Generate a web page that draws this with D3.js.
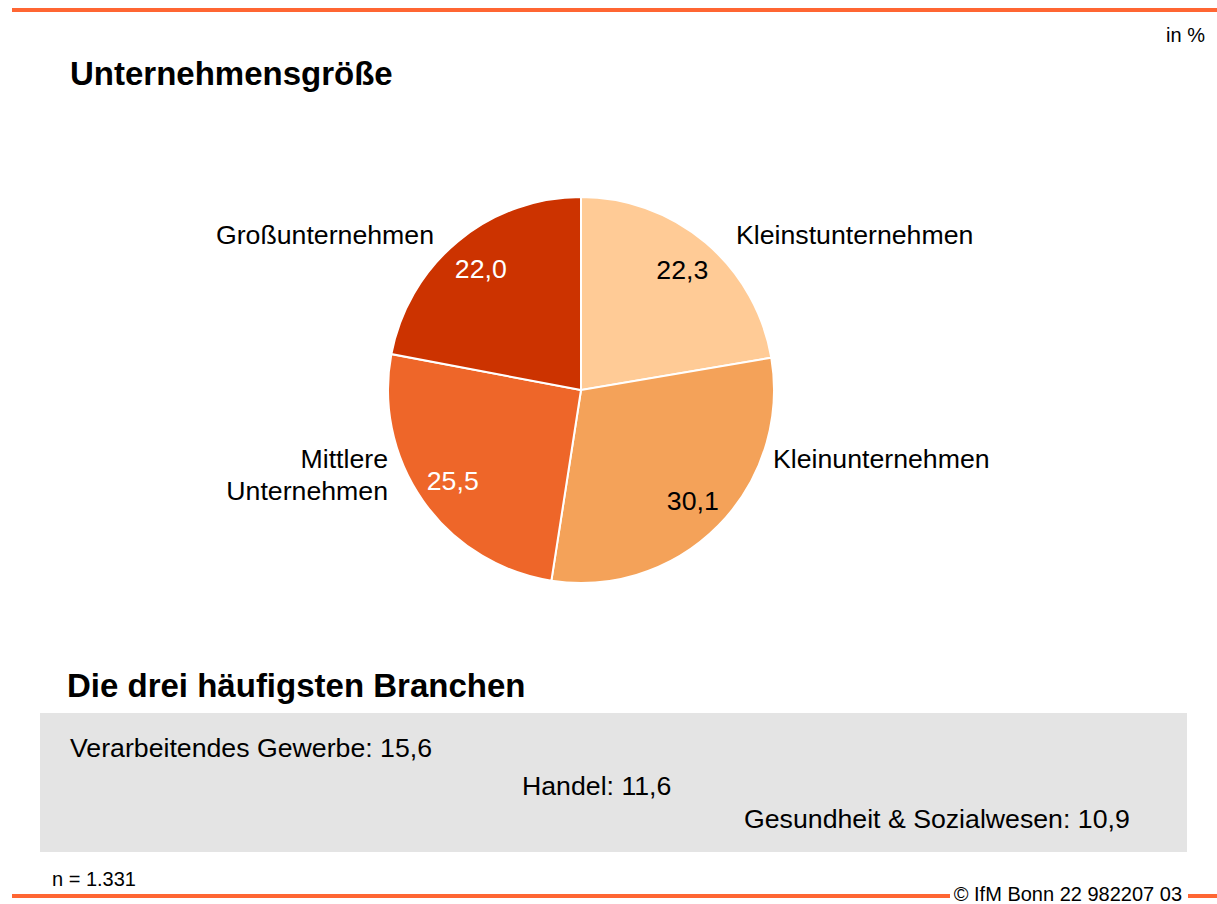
<!DOCTYPE html>
<html>
<head>
<meta charset="utf-8">
<script src="https://cdn.jsdelivr.net/npm/d3@7"></script>
<style>
  body { margin: 0; background: #fff; }
  text { font-family: "Liberation Sans", Arial, sans-serif; }
</style>
</head>
<body>
<div id="chart"></div>
<script>
// data
var categories = ["Kleinstunternehmen", "Kleinunternehmen", "Mittlere Unternehmen", "Großunternehmen"];
var values = [22.3, 30.1, 25.5, 22.0];
var colors = ["#FFCB96", "#F4A259", "#EE6629", "#CC3300"];
var valueColors = ["#000", "#000", "#fff", "#fff"];
var branchen = ["Verarbeitendes Gewerbe", "Handel", "Gesundheit & Sozialwesen"];
var branchenValues = [15.6, 11.6, 10.9];

var fmt = function(v) { return d3.format(".1f")(v).replace(".", ","); };

var width = 1217, height = 904;
var svg = d3.select("#chart").append("svg")
  .attr("width", width)
  .attr("height", height);

// orange lines top and bottom
svg.append("rect").attr("x", 12).attr("y", 8).attr("width", width - 12).attr("height", 4).attr("fill", "#FF6633");
svg.append("rect").attr("x", 12).attr("y", 894).attr("width", 938).attr("height", 4).attr("fill", "#FF6633");
svg.append("rect").attr("x", 1188).attr("y", 894).attr("width", width - 1188).attr("height", 4).attr("fill", "#FF6633");

svg.append("text").attr("x", 1205).attr("y", 42).attr("text-anchor", "end")
  .style("font-size", "20px").text("in %");

svg.append("text").attr("x", 70).attr("y", 85)
  .style("font-size", "33px").style("font-weight", "bold").text("Unternehmensgröße");

// pie
var cx = 581, cy = 390, radius = 193;
var pie = d3.pie().sort(null).value(function(d) { return d; });
var arcs = pie(values);
var arc = d3.arc().innerRadius(0).outerRadius(radius);
var labelArc = d3.arc().innerRadius(157).outerRadius(157);

var g = svg.append("g").attr("transform", "translate(" + cx + "," + cy + ")");

g.selectAll("path")
  .data(arcs)
  .enter().append("path")
    .attr("d", arc)
    .attr("fill", function(d, i) { return colors[i]; })
    .attr("stroke", "#fff")
    .attr("stroke-width", 2);

g.selectAll(".val")
  .data(arcs)
  .enter().append("text")
    .attr("class", "val")
    .attr("transform", function(d) { return "translate(" + labelArc.centroid(d) + ")"; })
    .attr("text-anchor", "middle")
    .attr("dy", "0.35em")
    .style("font-size", "26.7px")
    .attr("fill", function(d, i) { return valueColors[i]; })
    .text(function(d) { return fmt(d.data); });

// category labels, placed by hand like the original
var catLabels = [
  { lines: ["Kleinstunternehmen"], x: 155, y: -146, anchor: "start" },
  { lines: ["Kleinunternehmen"], x: 192, y: 78, anchor: "start" },
  { lines: ["Mittlere", "Unternehmen"], x: -193, y: 78, anchor: "end" },
  { lines: ["Großunternehmen"], x: -147, y: -146, anchor: "end" }
];
catLabels.forEach(function(l) {
  var t = g.append("text")
    .attr("x", l.x).attr("y", l.y)
    .attr("text-anchor", l.anchor)
    .style("font-size", "26.7px");
  l.lines.forEach(function(line, i) {
    t.append("tspan").attr("x", l.x).attr("dy", i === 0 ? 0 : 32).text(line);
  });
});

// Branchen
svg.append("text").attr("x", 67).attr("y", 697)
  .style("font-size", "33px").style("font-weight", "bold").text("Die drei häufigsten Branchen");

svg.append("rect").attr("x", 40).attr("y", 713).attr("width", 1147).attr("height", 139).attr("fill", "#E4E4E4");

var branchX = [70, 522, 744];
var branchY = [757, 795, 828];
svg.selectAll(".branche")
  .data(branchen)
  .enter().append("text")
    .attr("class", "branche")
    .attr("x", function(d, i) { return branchX[i]; })
    .attr("y", function(d, i) { return branchY[i]; })
    .style("font-size", "26.7px")
    .text(function(d, i) { return d + ": " + fmt(branchenValues[i]); });

svg.append("text").attr("x", 52).attr("y", 886).style("font-size", "20px").text("n = 1.331");
svg.append("text").attr("x", 1182).attr("y", 901).attr("text-anchor", "end")
  .style("font-size", "20px").text("© IfM Bonn 22 982207 03");
</script>
</body>
</html>
